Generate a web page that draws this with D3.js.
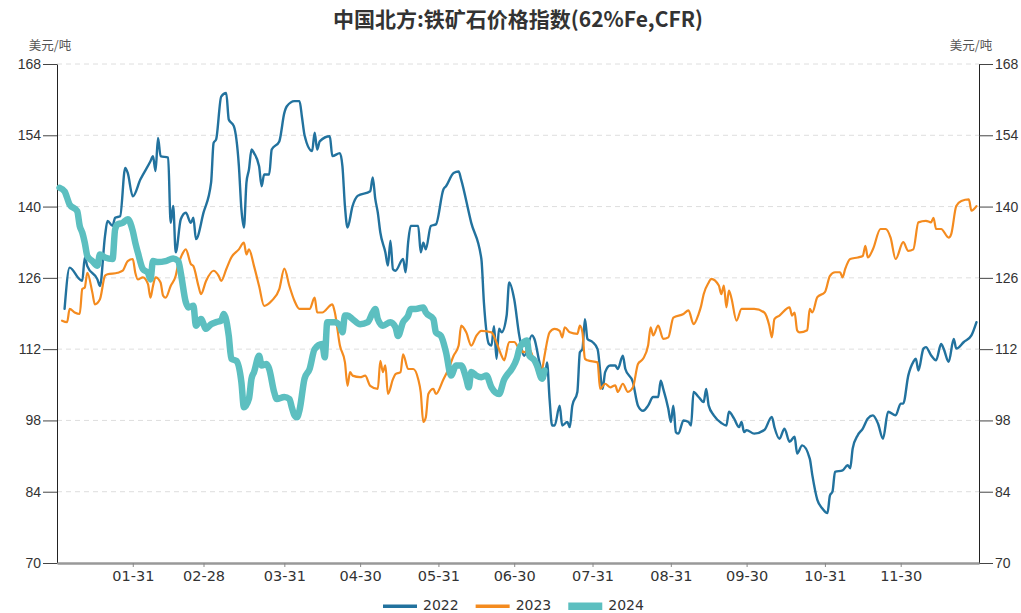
<!DOCTYPE html>
<html>
<head>
<meta charset="utf-8">
<script src="https://cdn.jsdelivr.net/npm/d3@7"></script>
<style>
body { margin: 0; background: #fff; }
svg { display: block; }
</style>
</head>
<body>
<svg id="chart" width="1021" height="613"></svg>
<script>
// x values are day offsets from Jan 1 (all years drawn on one Jan-Dec axis)
const days2022 = [3,5,9,10,11,12,16,17,19,20,22,23,25,27,28,30,33,37,38,39,40,41,44,45,46,47,49,51,53,54,55,58,61,62,63,65,67,68,70,72,73,74,75,76,77,78,80,81,82,84,85,88,90,91,94,96,97,98,101,102,103,104,108,109,112,113,114,115,117,119,124,125,126,127,128,130,131,132,133,134,137,138,139,140,143,144,145,146,148,150,153,154,157,159,160,164,168,169,171,172,173,174,175,176,178,179,181,183,185,188,189,191,193,194,195,196,197,199,200,202,203,204,206,207,208,209,210,212,214,216,217,219,221,222,224,225,228,230,232,234,236,238,239,240,242,243,244,245,246,248,250,251,252,254,256,257,258,260,263,265,266,268,270,271,272,273,276,280,283,284,286,288,290,292,293,295,298,299,301,303,305,306,307,308,311,313,314,315,317,319,321,323,325,327,329,332,334,335,337,339,340,341,343,344,346,348,350,351,353,355,356,359,362,364];
const vals2022 = [119.9,128.0,125.7,125.4,130,128.3,125.7,124.4,134.2,137.2,136.2,137.8,138.1,147.6,146.6,142,145.3,148.9,149.9,147,153.5,149.9,149.6,136.8,140.1,131,137.5,138.8,136.8,137.8,133.6,138.8,144.7,152.5,153.2,161.6,162.3,157.1,155.8,148,139.5,135.9,144.7,147.3,151.2,150.5,147.9,144,146.3,146.3,151.2,152.8,158.4,159.7,160.7,160.7,157.5,154,150.9,154.5,151.2,152.8,153.8,149.9,150.5,147.9,140,135.9,140.1,142.1,143,145.7,141.5,138.8,134.9,131,128.4,133.3,127.7,127.4,129.7,127.1,132.9,136.2,136.2,131,132.9,131.6,136.2,136.5,143.4,144,146.6,146.9,145.3,136.8,129.7,121.2,113,112.7,116.5,110.1,116,115.3,118.6,125.1,121.8,114.7,110.7,114.7,114,109.4,106.2,109.4,102.2,97,97,100.9,97,97.7,96.7,100.9,103.6,111.4,112,117.9,114,113.4,112,104.2,107.5,108.8,108.8,108.1,110.7,108.1,105.5,100.9,99.9,100.9,102.6,102.6,105.8,104.2,100.3,97.7,100.9,95.7,95.4,98,97.7,97,103.6,102.6,101.6,104.2,100.9,99,97.5,97,99.7,98.4,96.7,97.7,95.7,96.1,95.4,96.1,98.7,96.7,94.4,96.4,93.8,94.8,91.5,93.1,90.5,87.3,82.4,80.7,79.8,83.3,84,87.9,88.2,89.2,88.6,92.5,95.1,96.4,98.4,99,97.4,94.4,99.7,99,101.3,101.3,106.8,109.5,110.1,107.8,112.1,112.4,110.8,109.8,113,112.1,109.5,114,112.1,113.4,114.7,117.3];

const days2023 = [2,4,5,7,9,10,11,12,14,15,17,19,20,24,26,28,30,31,32,34,36,37,38,39,41,42,43,45,47,48,49,51,53,54,56,57,59,62,64,65,67,69,72,74,75,76,78,80,82,85,88,90,92,94,96,100,102,103,105,109,110,112,114,115,116,117,120,122,124,127,128,129,130,131,133,134,136,137,139,141,143,144,145,146,147,149,150,153,155,157,159,160,162,164,166,168,172,174,176,177,179,181,183,185,187,189,191,192,193,195,197,199,200,201,203,206,207,208,209,210,214,215,217,219,221,222,224,226,228,230,232,234,235,236,238,240,242,244,248,250,252,254,255,256,258,259,262,263,264,265,266,267,269,271,276,280,282,283,284,286,290,291,292,293,294,297,298,299,301,304,306,308,310,311,312,314,317,319,320,321,323,326,328,330,332,335,337,339,341,344,346,347,348,350,353,354,356,358,361,362,364];
const vals2023 = [117.6,117.3,119.9,119.2,118.9,123.8,124.1,127,123.1,120.8,121.8,126.4,126.7,127,127.4,129.3,129.7,127,125.7,126.1,124.8,122.1,124.4,126.1,125.1,122.5,122.1,124.4,126.4,128.7,130,131.6,128.7,128.3,124.4,122.8,125.4,127.4,126.4,125.4,127.7,130,131.6,132.9,130.6,131.6,128.3,124.4,120.5,121.5,123.8,127.8,124.4,121.5,119.9,119.9,122.1,119.2,119.2,120.8,119.2,112.7,109.4,104.8,107.5,106.8,106.5,106.8,104.8,104.2,109.7,107.5,108.8,103.2,106.1,107.1,107.5,111,108.1,108.1,106.1,103.5,97.7,98.6,103.2,104.2,103.2,106.1,108.1,110.7,112.7,116.6,115.3,112.7,114.6,115.6,115.3,113.3,110.7,109.8,113.4,113.4,112,111.4,112,109.4,106.8,107.8,110.7,115.3,116,115.6,114.3,116.3,115.3,115,116.6,115.3,110.1,109.8,109.4,104.2,105.2,104.5,104.9,103.6,105.2,103.6,104.5,109.1,110.1,112.7,116.3,114.7,116.6,114,114.3,118.2,118.9,119.6,116.9,118.9,120.5,122.8,125.1,125.8,124.5,122.8,124.5,120.2,123.5,122,117.6,119.9,119.9,119.2,116.6,114.3,117.9,118.6,120.2,118.6,119.2,115.7,115.3,115.7,119.9,119.2,122.2,123.2,126.4,127.1,127.1,126.1,127.7,129.7,130,130.3,132.3,130,131.6,135.6,135.6,133.9,129.7,133,131.3,131.6,136.9,137.2,136.9,137.8,135.6,135.6,133.9,134.6,140.1,141.1,141.4,139.2,140.1];

const days2024 = [1,3,5,8,9,10,11,12,14,16,17,19,22,23,24,26,28,30,31,32,34,36,37,38,40,43,46,48,49,51,52,54,55,57,59,61,63,65,66,68,69,71,73,74,76,77,78,80,81,83,84,86,87,90,92,93,94,95,96,98,100,102,105,106,107,110,112,113,114,115,117,120,123,125,126,127,129,132,134,135,137,139,140,142,145,146,149,150,152,154,156,158,160,162,163,164,166,168,170,172,175,177,178,180,182,183,185,186,187,189,190,192,193];
const vals2024 = [143.7,143,140.4,139.1,136.2,134.9,132.9,130.3,129.3,128.4,130.6,130,129.7,135.5,136.5,136.8,137.5,135.2,132.9,131,127.7,127,125.7,129.3,129.1,129.3,129.8,129.3,127,121.2,120.2,120.5,116.6,117.9,116,116.9,117.3,117.6,118.9,114.6,110.1,109.7,105.5,100.6,102.3,106.2,107.5,110.7,108.8,109.1,108.1,103.5,102.2,102.6,102.2,100.5,99,98.6,100,106.2,108.1,112,113,110.4,117.3,117.3,116.6,115.3,118.6,118.6,117.9,116.9,117.3,119.2,119.9,117.9,116.6,117.3,116.3,114.6,117.3,118.6,119.9,119.9,120.2,119.2,117.9,115.3,114.6,111.4,106.8,108.8,108.8,106.2,104.5,107.5,106.8,106.5,106.8,104.5,103.2,106,106.8,108.1,110.1,112,113.5,113.7,110.7,109.8,108.8,106.2,107.8];

const seriesNames = ["2022", "2023", "2024"];
const yTicks = [70, 84, 98, 112, 126, 140, 154, 168];
const xTickLabels = ["01-31","02-28","03-31","04-30","05-31","06-30","07-31","08-31","09-30","10-31","11-30"];
const title = "中国北方:铁矿石价格指数(62%Fe,CFR)";
const unit = "美元/吨";

const colors = { "2022": "#22729e", "2023": "#f48b1f", "2024": "#5cbfc0" };
const widths = { "2022": 2.4, "2023": 2.2, "2024": 6.5 };

const svg = d3.select("#chart");
const plotLeft = 57, plotRight = 979, plotTop = 64, plotBottom = 563;

const start = new Date(2024, 0, 1);
const x = d3.scaleTime().domain([start, new Date(2024, 11, 31)]).range([plotLeft, plotRight]);
const y = d3.scaleLinear().domain([70, 168]).range([plotBottom, plotTop]);
const parseTick = d3.timeParse("%Y-%m-%d");
const tickDates = xTickLabels.map(s => parseTick("2024-" + s));

// grid
svg.append("g")
    .selectAll("line")
    .data(yTicks.filter(d => d > 70))
    .join("line")
    .attr("x1", plotLeft).attr("x2", plotRight)
    .attr("y1", d => y(d)).attr("y2", d => y(d))
    .attr("stroke", "#dedede")
    .attr("stroke-dasharray", "5,4");

// axes
const yl = svg.append("g")
    .attr("transform", "translate(" + plotLeft + ",0)")
    .call(d3.axisLeft(y).tickValues(yTicks).tickSize(14).tickSizeOuter(0).tickPadding(2));
const yr = svg.append("g")
    .attr("transform", "translate(" + plotRight + ",0)")
    .call(d3.axisRight(y).tickValues(yTicks).tickSize(14).tickSizeOuter(0).tickPadding(2));
[yl, yr].forEach(function(g){
    g.select(".domain").attr("stroke", "#222");
    g.selectAll(".tick line").attr("stroke", "#444");
    g.selectAll("text")
        .attr("font-family", "'Liberation Sans', Arial, sans-serif")
        .attr("font-size", 14)
        .attr("fill", "#333");
});

const xa = svg.append("g")
    .attr("transform", "translate(0," + plotBottom + ")")
    .call(d3.axisBottom(x).tickValues(tickDates).tickSize(4).tickSizeOuter(0)
        .tickPadding(4).tickFormat(d3.timeFormat("%m-%d")));
xa.select(".domain").attr("stroke", "#999").attr("stroke-width", 2.5);
xa.selectAll(".tick line").attr("stroke", "#888");
xa.selectAll("text")
    .attr("font-family", "'DejaVu Sans', sans-serif")
    .attr("font-size", 14.5)
    .attr("fill", "#333");

// lines
const series = [
    { name: "2022", days: days2022, vals: vals2022 },
    { name: "2023", days: days2023, vals: vals2023 },
    { name: "2024", days: days2024, vals: vals2024 }
];
const line = d3.line()
    .curve(d3.curveMonotoneX)
    .x(d => x(d3.timeDay.offset(start, d[0])))
    .y(d => y(d[1]));

svg.append("g")
    .selectAll("path")
    .data(series)
    .join("path")
    .attr("d", s => line(s.days.map((d, i) => [d, s.vals[i]])))
    .attr("fill", "none")
    .attr("stroke", s => colors[s.name])
    .attr("stroke-width", s => widths[s.name])
    .attr("stroke-linejoin", "round")
    .attr("stroke-linecap", "round");

// title and units
svg.append("text")
    .attr("x", (plotLeft + plotRight) / 2).attr("y", 27)
    .attr("text-anchor", "middle")
    .attr("font-family", "'Noto Sans CJK SC', sans-serif")
    .attr("font-weight", "bold")
    .attr("font-size", 21)
    .attr("fill", "#333")
    .text(title);

svg.selectAll("text.unit")
    .data([50, 971])
    .join("text")
    .attr("class", "unit")
    .attr("x", d => d).attr("y", 50)
    .attr("text-anchor", "middle")
    .attr("font-family", "'Noto Sans CJK SC', sans-serif")
    .attr("font-size", 12.5)
    .attr("fill", "#555")
    .text(unit);

// legend
const legend = svg.append("g");
let lx = 383;
seriesNames.forEach(function(name){
    if (name === "2024") {
        legend.append("rect")
            .attr("x", lx).attr("y", 602.5).attr("width", 34).attr("height", 7.5)
            .attr("fill", colors[name]);
    } else {
        legend.append("line")
            .attr("x1", lx).attr("x2", lx + 34)
            .attr("y1", 606.3).attr("y2", 606.3)
            .attr("stroke", colors[name]).attr("stroke-width", 3.5);
    }
    const t = legend.append("text")
        .attr("x", lx + 40).attr("y", 610)
        .attr("font-family", "'DejaVu Sans', sans-serif")
        .attr("font-size", 14)
        .attr("fill", "#333")
        .text(name);
    lx += 40 + t.node().getComputedTextLength() + 17;
});
</script>
</body>
</html>
